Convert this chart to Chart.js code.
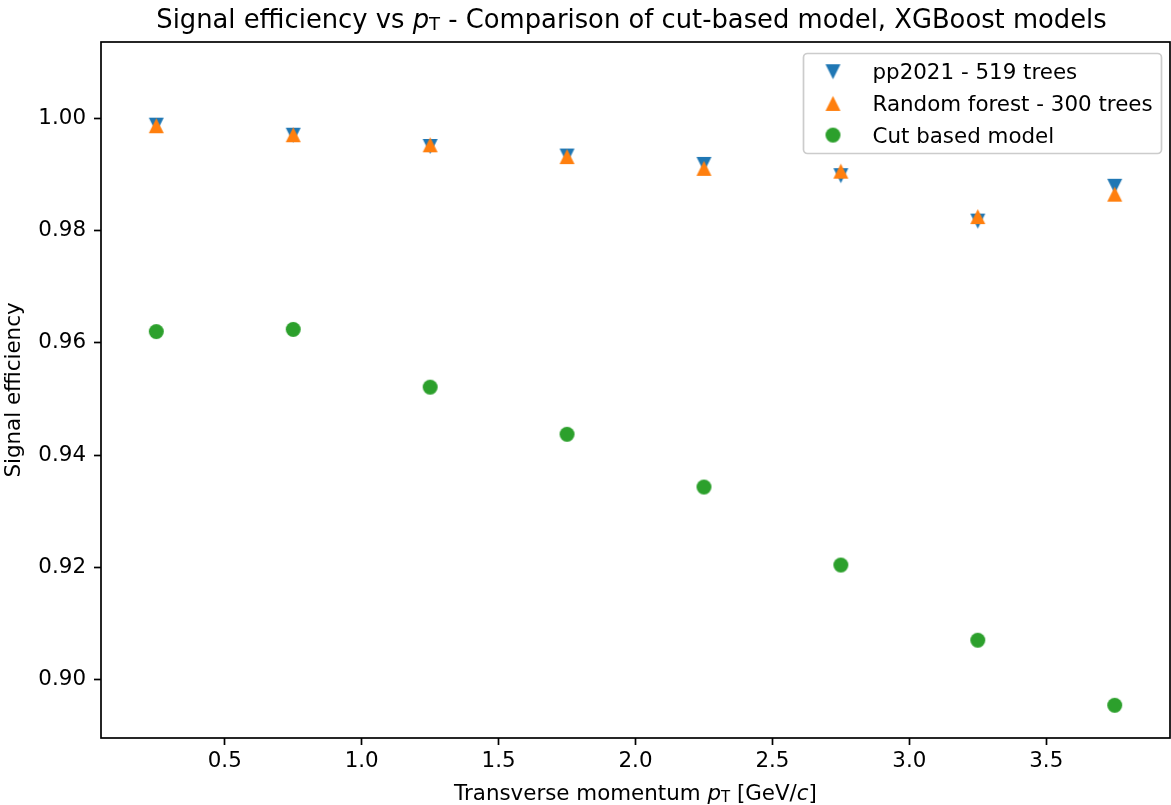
<!DOCTYPE html>
<html>
<head>
<meta charset="utf-8">
<title>Signal efficiency vs pT</title>
<script src="https://cdn.jsdelivr.net/npm/chart.js@4.4.0/dist/chart.umd.min.js"></script>
<style>
  html, body { margin: 0; padding: 0; background: #fff; }
  #wrap { width: 1171px; height: 805px; }
</style>
</head>
<body>
<div id="wrap"><canvas id="chart" width="1171" height="805"></canvas></div>
<script>
// pT bin centres [GeV/c]
const ptBins = [0.25, 0.75, 1.25, 1.75, 2.25, 2.75, 3.25, 3.75];

// signal efficiency per bin
const pp2021Eff = [0.9988, 0.9970, 0.9950, 0.9933, 0.9918, 0.9898, 0.9817, 0.9879];
const rfEff     = [0.9987, 0.9971, 0.9953, 0.9932, 0.9911, 0.9906, 0.9825, 0.9865];
const cutEff    = [0.9620, 0.9624, 0.9521, 0.9437, 0.9343, 0.9204, 0.9070, 0.8954];

const seriesNames = ["pp2021 - 519 trees", "Random forest - 300 trees", "Cut based model"];
const xTicks = [0.5, 1.0, 1.5, 2.0, 2.5, 3.0, 3.5];
const yTicks = [0.90, 0.92, 0.94, 0.96, 0.98, 1.00];

const BLUE = "#1f77b4", ORANGE = "#ff7f0e", GREEN = "#2ca02c";
const FONT = '"DejaVu Sans", "Liberation Sans", sans-serif';
const SMALL = 21.4;   // ticks, labels, legend
const BIG = 25.8;     // title

// ---------------------------
// marker images (matplotlib-like: width == height)
// ---------------------------
function makeMarker(kind, color, size) {
  const c = document.createElement("canvas");
  const s = size + 2;
  c.width = s; c.height = s;
  const g = c.getContext("2d");
  const m = s / 2, h = size / 2;
  g.fillStyle = color;
  g.beginPath();
  if (kind === "up") {
    g.moveTo(m, m - h); g.lineTo(m + h, m + h); g.lineTo(m - h, m + h);
  } else if (kind === "down") {
    g.moveTo(m, m + h); g.lineTo(m + h, m - h); g.lineTo(m - h, m - h);
  } else {
    g.arc(m, m, h, 0, Math.PI * 2);
  }
  g.closePath();
  g.fill();
  return c;
}

const markers = [
  makeMarker("down", BLUE, 15),
  makeMarker("up", ORANGE, 15),
  makeMarker("circle", GREEN, 15)
];

function toPoints(ys) {
  return ptBins.map((x, i) => ({ x: x, y: ys[i] }));
}

// mixed-style text (italic p, subscript T ...)
function drawRich(ctx, parts, x, y, size, align) {
  const fontOf = p => {
    const sz = p.sub ? size * 0.7 : size;
    return (p.it ? "oblique " : "") + sz + "px " + FONT;
  };
  let total = 0;
  const widths = parts.map(p => {
    ctx.font = fontOf(p);
    const w = ctx.measureText(p.t).width;
    total += w;
    return w;
  });
  let cx = align === "center" ? x - total / 2 : x;
  ctx.textAlign = "left";
  ctx.textBaseline = "alphabetic";
  parts.forEach((p, i) => {
    ctx.font = fontOf(p);
    ctx.fillText(p.t, cx, y + (p.sub ? size * 0.08 : 0));
    cx += widths[i];
  });
}

const decorPlugin = {
  id: "decor",
  afterDraw(chart) {
    const ctx = chart.ctx;
    const a = chart.chartArea;
    ctx.save();

    // axes frame
    ctx.strokeStyle = "#000";
    ctx.lineWidth = 1.7;
    ctx.strokeRect(a.left, a.top, a.right - a.left, a.bottom - a.top);

    ctx.fillStyle = "#000";
    const midX = (a.left + a.right) / 2;

    // title
    drawRich(ctx, [
      { t: "Signal efficiency vs " },
      { t: "p", it: true },
      { t: "T", sub: true },
      { t: " - Comparison of cut-based model, XGBoost models" }
    ], midX - 4, 27.5, BIG, "center");

    // x label
    drawRich(ctx, [
      { t: "Transverse momentum " },
      { t: "p", it: true },
      { t: "T", sub: true },
      { t: " [GeV/" },
      { t: "c", it: true },
      { t: "]" }
    ], midX, 800, SMALL, "center");

    // y label
    ctx.save();
    ctx.translate(20, (a.top + a.bottom) / 2);
    ctx.rotate(-Math.PI / 2);
    ctx.font = SMALL + "px " + FONT;
    ctx.textAlign = "center";
    ctx.textBaseline = "alphabetic";
    ctx.fillText("Signal efficiency", 0, 0);
    ctx.restore();

    // legend
    const lx = 803.5, ly = 53.5, lw = 358, lh = 100, r = 4;
    ctx.beginPath();
    ctx.moveTo(lx + r, ly);
    ctx.arcTo(lx + lw, ly, lx + lw, ly + lh, r);
    ctx.arcTo(lx + lw, ly + lh, lx, ly + lh, r);
    ctx.arcTo(lx, ly + lh, lx, ly, r);
    ctx.arcTo(lx, ly, lx + lw, ly, r);
    ctx.closePath();
    ctx.fillStyle = "rgba(255,255,255,0.8)";
    ctx.fill();
    ctx.strokeStyle = "#cccccc";
    ctx.lineWidth = 1.7;
    ctx.stroke();

    ctx.font = SMALL + "px " + FONT;
    ctx.fillStyle = "#000";
    ctx.textAlign = "left";
    ctx.textBaseline = "alphabetic";
    seriesNames.forEach((name, i) => {
      const yy = 71.7 + i * 31.7;
      const m = markers[i];
      ctx.drawImage(m, 833 - m.width / 2, yy - m.height / 2);
      ctx.fillText(name, 872.5, yy + 7.5);
    });

    ctx.restore();
  }
};

const tickFont = { family: FONT, size: SMALL };

new Chart(document.getElementById("chart"), {
  type: "scatter",
  data: {
    datasets: [
      { label: seriesNames[0], data: toPoints(pp2021Eff), pointStyle: markers[0], pointRadius: 8, order: 3 },
      { label: seriesNames[1], data: toPoints(rfEff), pointStyle: markers[1], pointRadius: 8, order: 2 },
      { label: seriesNames[2], data: toPoints(cutEff), pointStyle: markers[2], pointRadius: 8, order: 1 }
    ]
  },
  options: {
    responsive: false,
    animation: false,
    devicePixelRatio: 1,
    layout: { autoPadding: false, padding: { top: 42, right: 1, left: 0, bottom: 0 } },
    plugins: {
      legend: { display: false },
      title: { display: false },
      tooltip: { enabled: false }
    },
    scales: {
      x: {
        type: "linear",
        min: 0.048,
        max: 3.952,
        afterBuildTicks: s => { s.ticks = xTicks.map(v => ({ value: v })); },
        afterFit: s => { s.height = 67; s.paddingLeft = 0; s.paddingRight = 0; },
        ticks: {
          callback: v => Number(v).toFixed(1),
          font: tickFont,
          color: "#000",
          padding: 4,
          maxRotation: 0,
          autoSkip: false
        },
        grid: { drawOnChartArea: false, drawTicks: true, tickLength: 7, tickColor: "#000", tickWidth: 1.7 },
        border: { display: false }
      },
      y: {
        type: "linear",
        min: 0.88957,
        max: 1.01362,
        afterBuildTicks: s => { s.ticks = yTicks.map(v => ({ value: v })); },
        afterFit: s => { s.width = 101; s.paddingTop = 0; s.paddingBottom = 0; },
        ticks: {
          callback: v => Number(v).toFixed(2),
          font: tickFont,
          color: "#000",
          padding: 8,
          autoSkip: false
        },
        grid: { drawOnChartArea: false, drawTicks: true, tickLength: 7, tickColor: "#000", tickWidth: 1.7 },
        border: { display: false }
      }
    }
  },
  plugins: [decorPlugin]
});
</script>
</body>
</html>
